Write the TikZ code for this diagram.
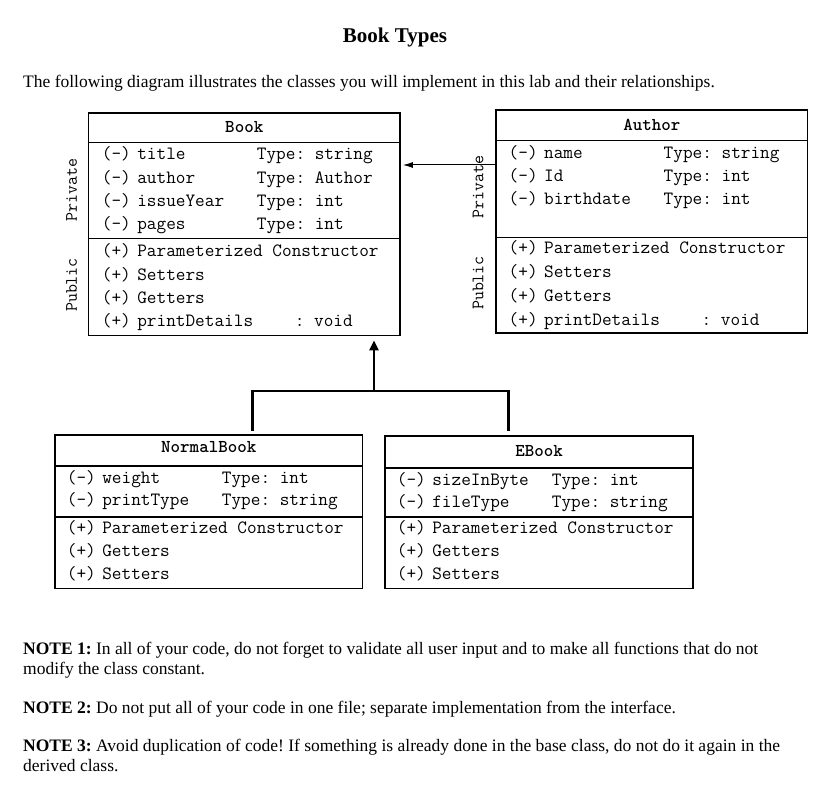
\documentclass[tikz,border=0pt]{standalone}
\usepackage{fontspec}
\setmainfont{Liberation Serif}
\usepackage{tikz}
\usetikzlibrary{calc,positioning,arrows.meta}
\frenchspacing
\newcommand{\vis}[1]{(#1)\hspace{6.5pt}}
\tikzset{
  cls/.style={draw,line width=1.8pt,inner sep=0pt,minimum width=#1},
  cline/.style={line width=1.8pt},
  hdr/.style={font=\ttfamily\bfseries\fontsize{18.1}{21}\selectfont,inner sep=0pt},
  rows/.style={font=\ttfamily\fontsize{18.74}{#1}\selectfont,inner sep=0pt,anchor=base west},
  side/.style={font=\ttfamily\fontsize{17.4}{20}\selectfont,inner sep=0pt,rotate=90},
  prose/.style={font=\fontsize{17.5}{19.5}\selectfont,inner sep=0pt,anchor=base west,align=left},
  gen/.style={line width=2.6pt},
  assoc/.style={-{Latex[length=10pt,width=6pt]},line width=1pt,shorten >=2pt},
}

\begin{document}
\begin{tikzpicture}[x=1pt,y=-1pt]
\fill[white] (0,0) rectangle (821,802);
\useasboundingbox (0,0) rectangle (821,802);

% text around the diagram
\node[font=\bfseries\fontsize{21}{25}\selectfont,inner sep=0pt,anchor=base] (title) at (395,43) {Book Types};
\node[prose] (intro) at (23,88) {The following diagram illustrates the classes you will implement in this lab and their relationships.};

% Book
\node[cls=311.5pt,minimum height=222.8pt] (book) at (244.25,224.1) {};
\draw[cline] (book.west |- 0,142.5) -- (book.east |- 0,142.5);
\draw[cline] (book.west |- 0,238.5) -- (book.east |- 0,238.5);
\node[hdr] (bookhd) at (244.25,127) {Book};
\node[rows=23.3] (bookpv) at (101.7,160) {\begin{tabular}[t]{@{}p{155pt}@{}l@{}}
\vis{-}title & Type: string\\
\vis{-}author & Type: Author\\
\vis{-}issueYear & Type: int\\
\vis{-}pages & Type: int
\end{tabular}};
\node[rows=23.3] (bookpb) at (101.7,256.7) {\begin{tabular}[t]{@{}l@{}}
\vis{+}Parameterized Constructor\\
\vis{+}Setters\\
\vis{+}Getters\\
\makebox[193pt][l]{\vis{+}printDetails}: void
\end{tabular}};
\node[side] (booksp) at (71.7,190) {Private};
\node[side] (booksu) at (71.7,285) {Public};

% Author
\node[cls=311.5pt,minimum height=223pt] (author) at (651.75,221.5) {};
\draw[cline] (author.west |- 0,140.5) -- (author.east |- 0,140.5);
\draw[cline] (author.west |- 0,237.5) -- (author.east |- 0,237.5);
\node[hdr] (authhd) at (651.75,125) {Author};
\node[rows=23] (authpv) at (508.5,158.3) {\begin{tabular}[t]{@{}p{155pt}@{}l@{}}
\vis{-}name & Type: string\\
\vis{-}Id & Type: int\\
\vis{-}birthdate & Type: int
\end{tabular}};
\node[rows=23.9] (authpb) at (508.5,253.3) {\begin{tabular}[t]{@{}l@{}}
\vis{+}Parameterized Constructor\\
\vis{+}Setters\\
\vis{+}Getters\\
\makebox[193pt][l]{\vis{+}printDetails}: void
\end{tabular}};
\node[side] (authsp) at (478,187) {Private};
\node[side] (authsu) at (478,283) {Public};

% NormalBook
\node[cls=307.5pt,minimum height=153.5pt] (nbook) at (208.75,511.75) {};
\draw[cline] (nbook.west |- 0,466) -- (nbook.east |- 0,466);
\draw[cline] (nbook.west |- 0,517) -- (nbook.east |- 0,517);
\node[hdr] (nbookhd) at (208.75,446.7) {NormalBook};
\node[rows=21.7] (nbookpv) at (66.7,483.3) {\begin{tabular}[t]{@{}p{155pt}@{}l@{}}
\vis{-}weight & Type: int\\
\vis{-}printType & Type: string
\end{tabular}};
\node[rows=23.3] (nbookpb) at (66.7,533.3) {\begin{tabular}[t]{@{}l@{}}
\vis{+}Parameterized Constructor\\
\vis{+}Getters\\
\vis{+}Setters
\end{tabular}};

% EBook
\node[cls=308pt,minimum height=152.5pt] (ebook) at (539,512.25) {};
\draw[cline] (ebook.west |- 0,468) -- (ebook.east |- 0,468);
\draw[cline] (ebook.west |- 0,517) -- (ebook.east |- 0,517);
\node[hdr] (ebookhd) at (539,451) {EBook};
\node[rows=22.7] (ebookpv) at (396.7,485) {\begin{tabular}[t]{@{}p{155pt}@{}l@{}}
\vis{-}sizeInByte & Type: int\\
\vis{-}fileType & Type: string
\end{tabular}};
\node[rows=23.3] (ebookpb) at (396.7,533.3) {\begin{tabular}[t]{@{}l@{}}
\vis{+}Parameterized Constructor\\
\vis{+}Getters\\
\vis{+}Setters
\end{tabular}};

% relationships
\coordinate (jn) at (374,391);
\coordinate (nbtop) at (252.7,431);
\coordinate (ebtop) at (508.7,431);
\draw[gen] (nbtop) |- (jn) -| (ebtop);
\draw[gen,-{Triangle[length=10pt,width=9pt]},shorten >=4pt] (jn) -- (jn |- book.south);
\draw[assoc] (author.west |- 0,165) -- (book.east |- 0,165);

% notes
\node[prose] (note1) at (23,674) {\textbf{NOTE 1:} In all of your code, do not forget to validate all user input and to make all functions that do not\\modify the class constant.};
\node[prose] (note2) at (23,713) {\textbf{NOTE 2:} Do not put all of your code in one file; separate implementation from the interface.};
\node[prose] (note3) at (23,771) {\textbf{NOTE 3:} Avoid duplication of code! If something is already done in the base class, do not do it again in the\\derived class.};
\end{tikzpicture}
\end{document}
